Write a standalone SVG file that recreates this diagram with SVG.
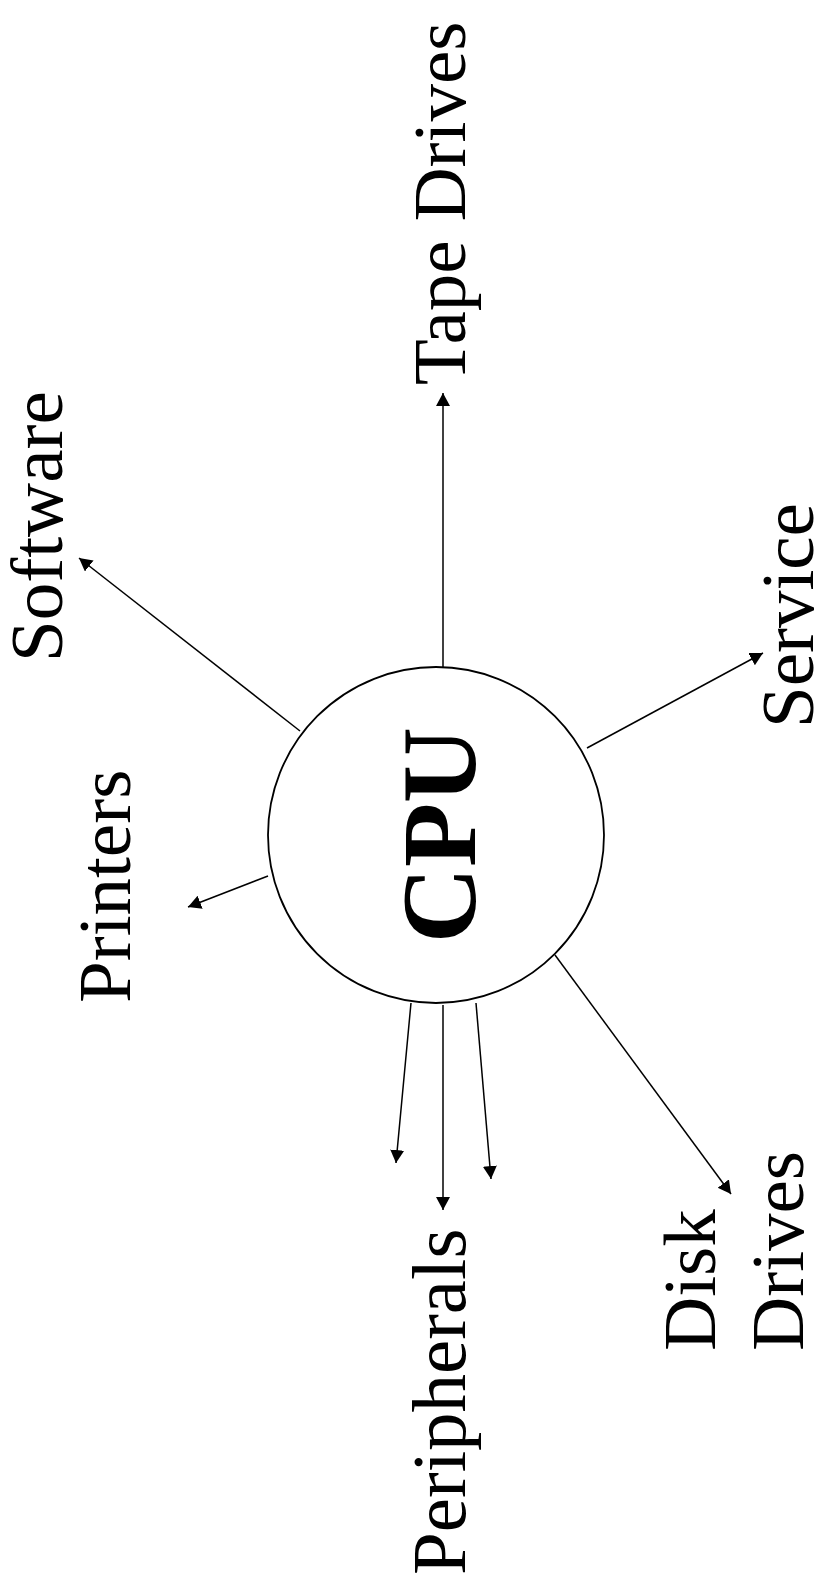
<svg xmlns="http://www.w3.org/2000/svg" width="820" height="1576" viewBox="0 0 820 1576">
<style>
.lbl{font-family:"Liberation Serif","Times New Roman",serif;font-size:75px;fill:#000}
.cpu{font-family:"Liberation Serif","Times New Roman",serif;font-size:105px;font-weight:bold;fill:#000}
.edge{stroke:#000;stroke-width:1.5;fill:none}
</style>
<defs>
<marker id="ah" markerUnits="userSpaceOnUse" markerWidth="16" markerHeight="16" viewBox="0 0 16 16" refX="13" refY="7" orient="auto">
<path d="M0,0 L13,7 L0,14 Z" fill="#000"/>
</marker>
</defs>
<rect width="820" height="1576" fill="#fff"/>
<g id="connectors">
<line class="edge" x1="443" y1="667" x2="443" y2="393" marker-end="url(#ah)"/>
<line class="edge" x1="300" y1="731" x2="79" y2="558" marker-end="url(#ah)"/>
<line class="edge" x1="587" y1="748" x2="763" y2="653" marker-end="url(#ah)"/>
<line class="edge" x1="268" y1="876" x2="188" y2="907" marker-end="url(#ah)"/>
<line class="edge" x1="555" y1="955" x2="731" y2="1194" marker-end="url(#ah)"/>
<line class="edge" x1="411" y1="1003" x2="396" y2="1163" marker-end="url(#ah)"/>
<line class="edge" x1="443" y1="1005" x2="443" y2="1210" marker-end="url(#ah)"/>
<line class="edge" x1="476" y1="1003" x2="491" y2="1179" marker-end="url(#ah)"/>
</g>
<g id="cpu">
<circle cx="436" cy="835" r="168" fill="#fff" stroke="#000" stroke-width="1.8"/>
<text class="cpu" transform="translate(475,835) rotate(-90)" text-anchor="middle">CPU</text>
</g>
<g id="tape-drives"><text class="lbl" transform="translate(465,385) rotate(-90)">Tape Drives</text></g>
<g id="software"><text class="lbl" transform="translate(62,662) rotate(-90)">Software</text></g>
<g id="service"><text class="lbl" transform="translate(813,728) rotate(-90)">Service</text></g>
<g id="printers"><text class="lbl" transform="translate(130,1003) rotate(-90)">Printers</text></g>
<g id="disk-drives">
<text class="lbl" transform="translate(715,1351) rotate(-90)">Disk</text>
<text class="lbl" transform="translate(803,1351) rotate(-90)">Drives</text>
</g>
<g id="peripherals"><text class="lbl" style="font-size:77px" transform="translate(465,1575) rotate(-90)">Peripherals</text></g>
</svg>
